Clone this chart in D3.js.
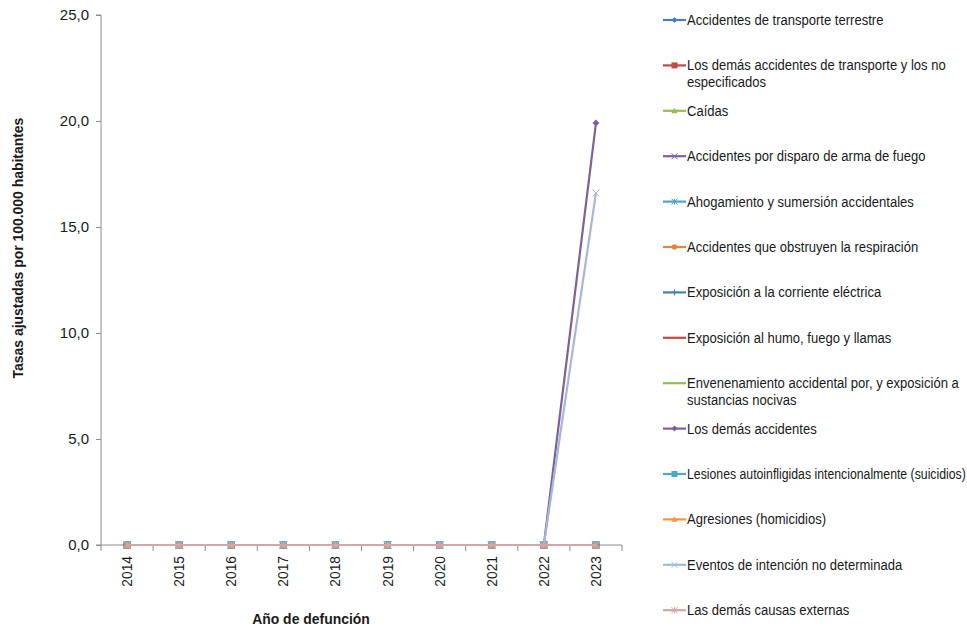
<!DOCTYPE html>
<html><head><meta charset="utf-8">
<script src="https://cdn.jsdelivr.net/npm/d3@7/dist/d3.min.js"></script>
<style>
body{margin:0;background:#fff;}
text{font-family:"Liberation Sans",Arial,sans-serif;}
</style></head><body>
<svg id="c" width="967" height="629"></svg>
<script>
const years = ["2014","2015","2016","2017","2018","2019","2020","2021","2022","2023"];
const seriesNames = [
 "Accidentes de transporte terrestre",
 "Los demás accidentes de transporte y los no\nespecificados",
 "Caídas",
 "Accidentes por disparo de arma de fuego",
 "Ahogamiento y sumersión accidentales",
 "Accidentes que obstruyen la respiración",
 "Exposición a la corriente eléctrica",
 "Exposición al humo, fuego y llamas",
 "Envenenamiento accidental por, y exposición a\nsustancias nocivas",
 "Los demás accidentes",
 "Lesiones autoinfligidas intencionalmente (suicidios)",
 "Agresiones (homicidios)",
 "Eventos de intención no determinada",
 "Las demás causas externas"
];
const s01 = [0,0,0,0,0,0,0,0,0,0];
const s02 = [0,0,0,0,0,0,0,0,0,0];
const s03 = [0,0,0,0,0,0,0,0,0,0];
const s04 = [0,0,0,0,0,0,0,0,0,0];
const s05 = [0,0,0,0,0,0,0,0,0,0];
const s06 = [0,0,0,0,0,0,0,0,0,0];
const s07 = [0,0,0,0,0,0,0,0,0,0];
const s08 = [0,0,0,0,0,0,0,0,0,0];
const s09 = [0,0,0,0,0,0,0,0,0,0];
const s10 = [0,0,0,0,0,0,0,0,0,19.9];
const s11 = [0,0,0,0,0,0,0,0,0,0];
const s12 = [0,0,0,0,0,0,0,0,0,0];
const s13 = [0,0,0,0,0,0,0,0,0,16.6];
const s14 = [0,0,0,0,0,0,0,0,0,0];
const seriesValues = [s01,s02,s03,s04,s05,s06,s07,s08,s09,s10,s11,s12,s13,s14];
const yTicks = [0,5,10,15,20,25];
const colors = ["#4A7EBB","#BE4B48","#98B954","#7D60A0","#46AAC5","#E0883F","#4A7EBB","#BE4B48","#98B954","#7D60A0","#46AAC5","#F69240","#A5B7DA","#D9A5A4"];
const markers = ["diamond","square","triangle","x","star","circle","plus",null,null,"diamond","square","triangle","x","star"];

const svg = d3.select("#c");
const L=101, R=622, T=15, B=545;
const x = d3.scaleBand().domain(years).range([L,R]);
const y = d3.scaleLinear().domain([0,25]).range([B,T]);
const fmt = v => d3.format(".1f")(v).replace(".",",");

// y axis
const ya = svg.append("g").attr("transform",`translate(${L},0)`)
 .call(d3.axisLeft(y).tickValues(yTicks).tickFormat(fmt).tickSize(5).tickPadding(7));
ya.select(".domain").attr("stroke","#8c8c8c").attr("d",`M-5,${T}H0V${B}H-5`);
ya.selectAll(".tick line").attr("stroke","#8c8c8c");
ya.selectAll(".tick text").attr("font-size",15).attr("fill","#1a1a1a");

// x axis
const xa = svg.append("g").attr("transform",`translate(0,${B})`);
xa.append("line").attr("x1",L).attr("x2",R).attr("stroke","#8c8c8c");
xa.selectAll("line.t").data(d3.range(years.length+1)).join("line").attr("class","t")
 .attr("x1",i=>L+i*x.step()).attr("x2",i=>L+i*x.step()).attr("y1",0).attr("y2",6).attr("stroke","#8c8c8c");
xa.selectAll("text").data(years).join("text")
 .attr("transform",d=>`translate(${x(d)+x.bandwidth()/2+5},11) rotate(-90) scale(0.92,1)`)
 .attr("text-anchor","end").attr("font-size",15).attr("fill","#1a1a1a").text(d=>d);

// titles
svg.append("text").attr("transform","translate(23,248) rotate(-90) scale(0.93,1)").attr("text-anchor","middle")
 .attr("font-size",15).attr("font-weight","bold").attr("fill","#1a1a1a").text("Tasas ajustadas por 100.000 habitantes");
svg.append("text").attr("transform","translate(311,624) scale(0.93,1)").attr("text-anchor","middle")
 .attr("font-size",15).attr("font-weight","bold").attr("fill","#1a1a1a").text("Año de defunción");

function drawMarker(g, type, cx, cy, color, s){
  s = s||3.5;
  if(!type) return;
  if(type==="diamond") g.append("path").attr("d",`M${cx},${cy-s}L${cx+s},${cy}L${cx},${cy+s}L${cx-s},${cy}Z`).attr("fill",color);
  else if(type==="square") g.append("rect").attr("x",cx-s).attr("y",cy-s).attr("width",2*s).attr("height",2*s).attr("fill",color);
  else if(type==="triangle") g.append("path").attr("d",`M${cx},${cy-s}L${cx+s},${cy+s*0.8}L${cx-s},${cy+s*0.8}Z`).attr("fill",color);
  else if(type==="circle") g.append("circle").attr("cx",cx).attr("cy",cy).attr("r",s*0.9).attr("fill",color);
  else if(type==="x") g.append("path").attr("d",`M${cx-s},${cy-s}L${cx+s},${cy+s}M${cx-s},${cy+s}L${cx+s},${cy-s}`).attr("stroke",color).attr("stroke-width",1);
  else if(type==="plus") g.append("path").attr("d",`M${cx-s},${cy}L${cx+s},${cy}M${cx},${cy-s}L${cx},${cy+s}`).attr("stroke",color).attr("stroke-width",1.2);
  else if(type==="star") g.append("path").attr("d",`M${cx-s},${cy-s}L${cx+s},${cy+s}M${cx-s},${cy+s}L${cx+s},${cy-s}M${cx},${cy-s}L${cx},${cy+s}`).attr("stroke",color).attr("stroke-width",1);
}

// series
const line = d3.line().x((d,i)=>x(years[i])+x.bandwidth()/2).y(d=>y(d));
const plot = svg.append("g");
seriesValues.forEach((vals,k)=>{
  const g = plot.append("g");
  g.append("path").datum(vals).attr("d",line).attr("fill","none").attr("stroke",colors[k]).attr("stroke-width",2.2);
  vals.forEach((v,i)=>drawMarker(g, markers[k], x(years[i])+x.bandwidth()/2, y(v), colors[k]));
});

// legend
const lg = svg.append("g");
const maxW = 967 - 688;
seriesNames.forEach((name,k)=>{
  const ly = 20 + k*45.4;
  const g = lg.append("g");
  g.append("line").attr("x1",663).attr("x2",686).attr("y1",ly).attr("y2",ly).attr("stroke",colors[k]).attr("stroke-width",2.2);
  drawMarker(g, markers[k], 674.5, ly, colors[k], 3);
  const t = g.append("text").attr("font-size",14.5).attr("fill","#1a1a1a");
  const spans = name.split("\n").map((ln,j)=>t.append("tspan").attr("x",0).attr("dy",j?17:0).text(ln));
  const w = d3.max(spans, s=>s.node().getComputedTextLength());
  const sc = Math.min(0.9, maxW / w);
  t.attr("transform",`translate(687,${ly+5}) scale(${sc},1)`);
});
</script></body></html>
